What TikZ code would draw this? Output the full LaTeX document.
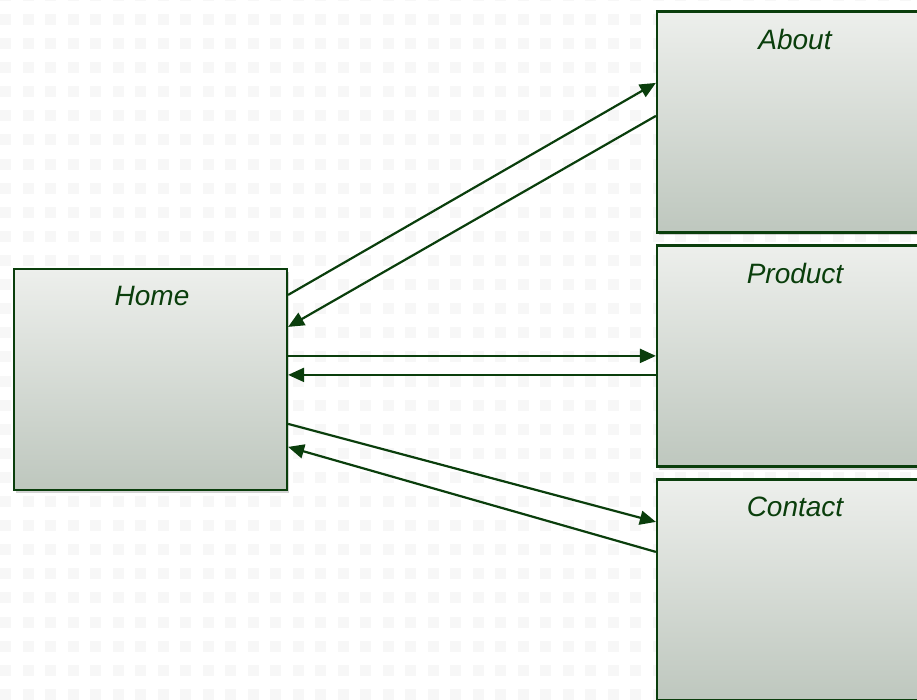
\documentclass[tikz,border=0pt]{standalone}
\usepackage{fontspec}
\setmainfont{Liberation Sans}
\usetikzlibrary{arrows.meta,shadows}
\definecolor{linkgreen}{RGB}{10,62,12}
\definecolor{boxtop}{RGB}{237,239,236}
\definecolor{boxbot}{RGB}{190,199,190}
\definecolor{dotgray}{RGB}{247,247,247}
\tikzset{
	page/.style={draw=linkgreen, line width=2.2pt, top color=boxtop, bottom color=boxbot,
		minimum width=273pt, minimum height=221pt, inner sep=0pt,
		drop shadow={shadow xshift=2pt, shadow yshift=-3pt, opacity=0.35}},
	title/.style={anchor=north, yshift=-18.5pt, xshift=1.5pt, inner sep=0pt, text=linkgreen,
		font=\itshape\fontsize{28}{34}\selectfont},
	link/.style={draw=linkgreen, line width=2.2pt, -{Triangle[length=16pt,width=14pt]}}
}
\begin{document}
\begin{tikzpicture}[x=1pt,y=-1pt]
		\useasboundingbox (0,0) rectangle (917,700);
		\clip (0,0) rectangle (917,700);
		% dotted backdrop
		\foreach \i in {0,...,40}
			\foreach \j in {0,...,29}
				\fill[dotgray] (\i*22.5,\j*24.1-10.1) rectangle ++(11,11);
		% pages
		\node[page, label={[title]north:Home}] (home) at (150.5,379.5) {};
		\node[page, label={[title]north:About}] (about) at (793.5,122) {};
		\node[page, label={[title]north:Product}] (product) at (793.5,356) {};
		\node[page, label={[title]north:Contact}] (contact) at (793.5,590) {};
		% links
		\draw[link] ([yshift=-27pt]home.north east) -- ([yshift=-72.5pt]about.north west);
		\draw[link] ([yshift=-105.5pt]about.north west) -- ([yshift=-59pt]home.north east);
		\draw[link] ([yshift=-88pt]home.north east) -- ([yshift=-111.5pt]product.north west);
		\draw[link] ([yshift=-130.5pt]product.north west) -- ([yshift=-107pt]home.north east);
		\draw[link] ([yshift=-156pt]home.north east) -- ([yshift=-43.5pt]contact.north west);
		\draw[link] ([yshift=-73.5pt]contact.north west) -- ([yshift=-179pt]home.north east);
\end{tikzpicture}
\end{document}
